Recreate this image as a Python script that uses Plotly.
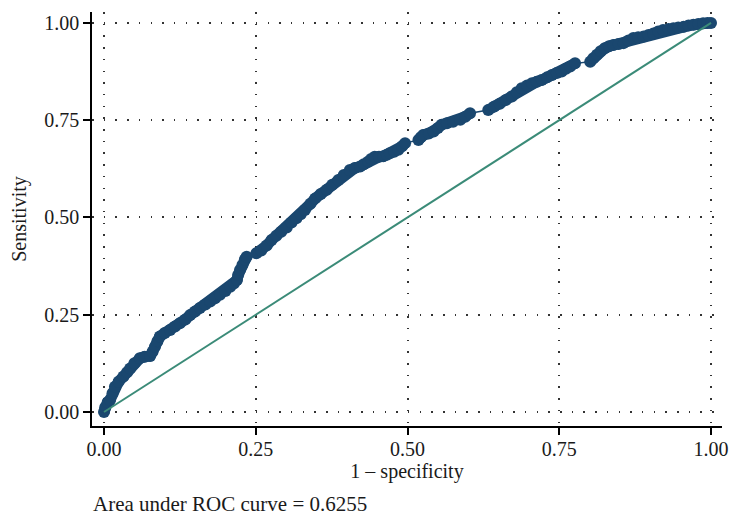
import math
import plotly.graph_objects as go

# ROC curve points (1 - specificity, sensitivity)
roc_fpr = [0.000, 0.002, 0.006, 0.010, 0.014, 0.018, 0.024, 0.032, 0.038, 0.043,
           0.050, 0.059, 0.067, 0.076, 0.080, 0.084, 0.088, 0.092, 0.100, 0.109,
           0.117, 0.125, 0.134, 0.142, 0.150, 0.158, 0.167, 0.175, 0.183, 0.191,
           0.200, 0.208, 0.214, 0.219, 0.221, 0.224, 0.228, 0.232, 0.235, 0.251,
           0.259, 0.268, 0.276, 0.284, 0.292, 0.301, 0.309, 0.317, 0.324, 0.331,
           0.340, 0.348, 0.357, 0.367, 0.376, 0.386, 0.395, 0.405, 0.413, 0.422,
           0.428, 0.435, 0.440, 0.446, 0.453, 0.460, 0.466, 0.471, 0.478, 0.485,
           0.491, 0.496, 0.518, 0.522, 0.526, 0.535, 0.543, 0.550, 0.556, 0.565,
           0.575, 0.587, 0.595, 0.603, 0.633, 0.643, 0.652, 0.662, 0.672, 0.680,
           0.688, 0.697, 0.705, 0.713, 0.721, 0.730, 0.738, 0.746, 0.754, 0.761,
           0.768, 0.776, 0.801, 0.806, 0.812, 0.818, 0.825, 0.832, 0.839, 0.848,
           0.856, 0.864, 0.872, 0.880, 0.889, 0.897, 0.905, 0.913, 0.921, 0.930,
           0.938, 0.946, 0.955, 0.963, 0.971, 0.979, 0.987, 0.994, 1.000]
roc_tpr = [0.000, 0.012, 0.025, 0.031, 0.048, 0.065, 0.078, 0.091, 0.102, 0.112,
           0.125, 0.138, 0.142, 0.144, 0.155, 0.168, 0.182, 0.194, 0.203, 0.211,
           0.220, 0.228, 0.238, 0.249, 0.258, 0.267, 0.276, 0.284, 0.292, 0.301,
           0.311, 0.322, 0.330, 0.339, 0.352, 0.365, 0.378, 0.392, 0.399, 0.408,
           0.415, 0.428, 0.442, 0.453, 0.463, 0.474, 0.487, 0.498, 0.508, 0.519,
           0.535, 0.549, 0.560, 0.571, 0.584, 0.596, 0.609, 0.622, 0.627, 0.631,
           0.637, 0.643, 0.650, 0.656, 0.656, 0.657, 0.661, 0.665, 0.669, 0.674,
           0.683, 0.691, 0.699, 0.706, 0.712, 0.716, 0.721, 0.730, 0.738, 0.742,
           0.746, 0.751, 0.759, 0.768, 0.776, 0.785, 0.792, 0.802, 0.811, 0.822,
           0.832, 0.839, 0.845, 0.849, 0.853, 0.860, 0.866, 0.871, 0.875, 0.882,
           0.888, 0.896, 0.900, 0.909, 0.918, 0.927, 0.935, 0.940, 0.943, 0.946,
           0.948, 0.955, 0.961, 0.963, 0.965, 0.969, 0.973, 0.978, 0.982, 0.984,
           0.986, 0.988, 0.990, 0.993, 0.995, 0.997, 0.999, 1.000, 1.000]

ref_x = [0.0, 1.0]
ref_y = [0.0, 1.0]

tick_vals = [0.0, 0.25, 0.5, 0.75, 1.0]
tick_text = ["0.00", "0.25", "0.50", "0.75", "1.00"]
auc_text = "Area under ROC curve = 0.6255"

NAVY = "#1a476f"
TEAL = "#3b8b78"
FONT = "Liberation Serif"
TXT = "#1a1a1a"

# thick band: break where consecutive points are far apart (plot-pixel distance)
band_x, band_y = [], []
for i, (x, y) in enumerate(zip(roc_fpr, roc_tpr)):
    if i > 0:
        d = math.hypot((x - roc_fpr[i - 1]) * 607, (y - roc_tpr[i - 1]) * 389)
        if d > 9:
            band_x.append(None)
            band_y.append(None)
    band_x.append(x)
    band_y.append(y)

fig = go.Figure()
fig.add_trace(go.Scatter(x=band_x, y=band_y, mode="lines",
                         line=dict(color=NAVY, width=11), hoverinfo="skip",
                         connectgaps=False, showlegend=False))
fig.add_trace(go.Scatter(x=roc_fpr, y=roc_tpr, mode="lines+markers",
                         line=dict(color=NAVY, width=1.5),
                         marker=dict(color=NAVY, size=12, line=dict(width=0)),
                         showlegend=False))
fig.add_trace(go.Scatter(x=ref_x, y=ref_y, mode="lines",
                         line=dict(color=TEAL, width=2), showlegend=False))

axis_common = dict(
    tickvals=tick_vals, ticktext=tick_text,
    showline=True, linecolor="#000000", linewidth=1.6, mirror=False,
    ticks="outside", ticklen=7, tickwidth=2, tickcolor="#000000",
    showgrid=True, gridcolor="#333333", gridwidth=1.5, griddash="1.5px,10.2px",
    zeroline=False, automargin=False,
    tickfont=dict(family=FONT, size=20, color=TXT),
)

fig.update_layout(
    width=730, height=515,
    margin=dict(l=92, r=8, t=12, b=89),
    paper_bgcolor="white", plot_bgcolor="white",
    font=dict(family=FONT, size=20, color=TXT),
    xaxis=dict(range=[-0.0198, 1.0181], ticklabelstandoff=-3,
               title=dict(text="1 – specificity", standoff=5,
                          font=dict(family=FONT, size=20, color=TXT)), **axis_common),
    yaxis=dict(range=[-0.036, 1.028],
               title=dict(text="Sensitivity", standoff=12,
                          font=dict(family=FONT, size=20, color=TXT)), **axis_common),
    annotations=[dict(text=auc_text, xref="paper", yref="paper", x=-0.001, y=-0.188,
                      xanchor="left", yanchor="middle", showarrow=False,
                      font=dict(family=FONT, size=21, color=TXT))],
)

fig.write_html("out.html", config={"displayModeBar": False},
               post_script="document.body.style.margin='0';")
